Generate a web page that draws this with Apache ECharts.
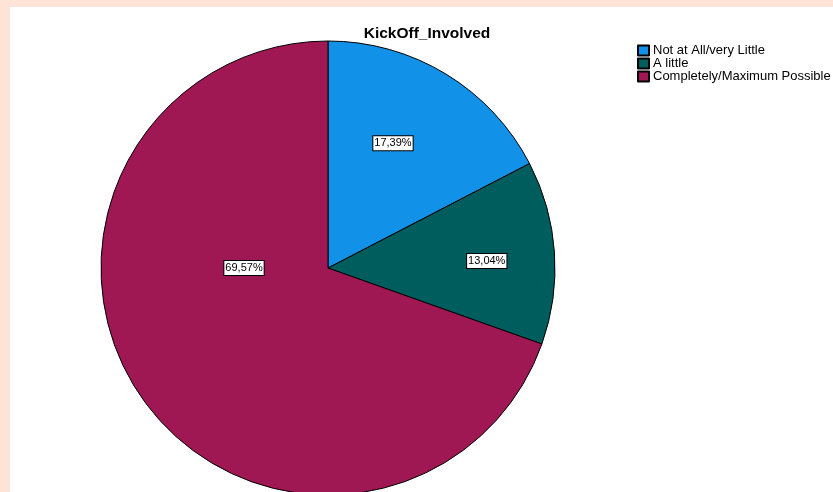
<!DOCTYPE html>
<html><head><meta charset="utf-8">
<script src="https://cdn.jsdelivr.net/npm/echarts@6/dist/echarts.min.js"></script>
<style>html,body{margin:0;padding:0;background:#fde4d6;}#c{position:absolute;left:10px;top:7px;width:823px;height:485px;background:#fff;}</style>
</head><body><div id="c"></div>
<script>
const categories = ['Not at All/very Little', 'A little', 'Completely/Maximum Possible'];
const counts = [4, 3, 16];
const percentLabels = ['17,39%', '13,04%', '69,57%'];
const colors = ['#1192e8', '#005d5d', '#9f1853'];
const chart = echarts.init(document.getElementById('c'), null, {renderer: 'canvas'});
const cx = 318, cy = 261, R = 227;
const labelPolar = [[62.5, 0.62], [2.5, 0.70], [180, 0.37]];
chart.setOption({
  animation: false,
  title: {text: 'KickOff_Involved', left: 412, top: 14, textAlign: 'center',
    textStyle: {fontFamily: 'Liberation Sans', fontSize: 15.5, fontWeight: 'bold', color: '#000'}},
  legend: {orient: 'vertical', left: 622, top: 32, icon: 'rect', itemWidth: 11, itemHeight: 10, itemGap: 0,
    textStyle: {fontFamily: 'Liberation Sans', fontSize: 13, lineHeight: 13, color: '#000', padding: [0,0,0,-1]},
    data: categories},
  series: [{
    type: 'pie', center: [cx, cy], radius: R, startAngle: 90, clockwise: true,
    avoidLabelOverlap: false,
    itemStyle: {borderColor: '#000', borderWidth: 1},
    label: {show: true, position: 'inside', formatter: p => percentLabels[p.dataIndex],
      fontFamily: 'Liberation Sans', fontSize: 11, color: '#000', backgroundColor: '#fff',
      borderColor: '#000', borderWidth: 1, padding: [2, 1, 1, 1]},
    labelLine: {show: false},
    emphasis: {disabled: true},
    labelLayout: function (p) {
      const lp = labelPolar[p.dataIndex];
      const a = lp[0] * Math.PI / 180;
      return {x: cx + Math.cos(a) * R * lp[1], y: cy - Math.sin(a) * R * lp[1], align: 'center', verticalAlign: 'middle'};
    },
    data: categories.map((n, i) => ({name: n, value: counts[i], itemStyle: {color: colors[i]}}))
  }]
});
</script></body></html>
